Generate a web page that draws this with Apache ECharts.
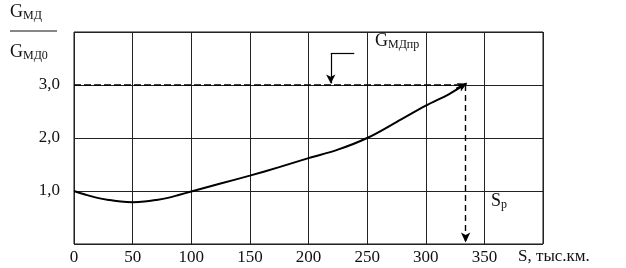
<!DOCTYPE html>
<html><head><meta charset="utf-8">
<script src="https://cdn.jsdelivr.net/npm/echarts@6/dist/echarts.min.js"></script>
<style>html,body{margin:0;padding:0;background:#fff}#c{width:626px;height:268px}</style>
</head><body><div id="c"></div>
<script>
const S = [0,10,20,30,40,50,60,70,80,90,100,125,150,175,200,225,250,275,300,320,334];
const G = [1.0,0.93,0.87,0.83,0.80,0.79,0.80,0.83,0.87,0.93,0.99,1.14,1.29,1.45,1.62,1.78,2.0,2.30,2.61,2.83,3.02];
const xTicks = [0,50,100,150,200,250,300,350];
const yTickLabels = {1:'1,0',2:'2,0',3:'3,0'};
const Gpr = 3.0, Sp = 334;

const FONT = '"Liberation Serif", "Times New Roman", serif';
const chart = echarts.init(document.getElementById('c'));
const data = S.map((s,i)=>[s,G[i]]);
const sub = {fontFamily:FONT,fontSize:12,fill:'#111',padding:[8,0,0,0]};
chart.setOption({
  animation:false,
  backgroundColor:'#fff',
  grid:{left:74,right:83,top:32,bottom:24,show:true,borderColor:'#111',borderWidth:1},
  xAxis:{type:'value',min:0,max:400,interval:50,
    axisLine:{show:false},axisTick:{show:false},
    splitLine:{show:true,lineStyle:{color:'#222',width:1}},
    axisLabel:{margin:5,color:'#111',fontFamily:FONT,fontSize:17,
      formatter:v=> xTicks.includes(v)?String(v):''}},
  yAxis:{type:'value',min:0,max:4,interval:1,
    axisLine:{show:false},axisTick:{show:false},
    splitLine:{show:true,lineStyle:{color:'#222',width:1}},
    axisLabel:{margin:14,color:'#111',fontFamily:FONT,fontSize:17,
      formatter:v=> yTickLabels[v]||''}},
  series:[{
    type:'line',data:data,smooth:0.35,symbol:'none',
    lineStyle:{color:'#000',width:2},
    markLine:{silent:true,animation:false,label:{show:false},
      data:[
        [{coord:[0,Gpr],symbol:'none',lineStyle:{type:[7,3],color:'#000',width:1.6}},{coord:[Sp,Gpr],symbol:'none'}],
        [{coord:[Sp,Gpr],symbol:'none',lineStyle:{type:[6,4],color:'#000',width:1.4}},{coord:[Sp,0.03],symbol:'arrow',symbolSize:[7,10]}],
        [{coord:[239,3.6],symbol:'none',lineStyle:{type:'solid',color:'#000',width:1.2}},{coord:[219,3.6],symbol:'none'}],
        [{coord:[219,3.6],symbol:'none',lineStyle:{type:'solid',color:'#000',width:1.2}},{coord:[219,3.03],symbol:'arrow',symbolSize:[7,9]}],
        [{coord:[326,2.93],symbol:'none',lineStyle:{type:'solid',color:'#000',width:2}},{coord:[Sp+1,Gpr+0.03],symbol:'arrow',symbolSize:[7,9]}]
      ]}
  }],
  graphic:[
    {type:'text',left:10,top:3,style:{text:'G{s|МД}',font:'18px '+FONT,fill:'#111',rich:{s:sub}}},
    {type:'line',shape:{x1:10,y1:31,x2:57,y2:31},style:{stroke:'#111',lineWidth:1.2}},
    {type:'text',left:10,top:43,style:{text:'G{s|МД0}',font:'18px '+FONT,fill:'#111',rich:{s:sub}}},
    {type:'text',left:375,top:32,style:{text:'G{s|МДпр}',font:'18px '+FONT,fill:'#111',rich:{s:sub}}},
    {type:'text',left:491,top:192,style:{text:'S{s|p}',font:'18px '+FONT,fill:'#111',rich:{s:sub}}},
    {type:'text',left:518,top:248,style:{text:'S, тыс.км.',font:'17px '+FONT,fill:'#111'}}
  ]
});
</script></body></html>
